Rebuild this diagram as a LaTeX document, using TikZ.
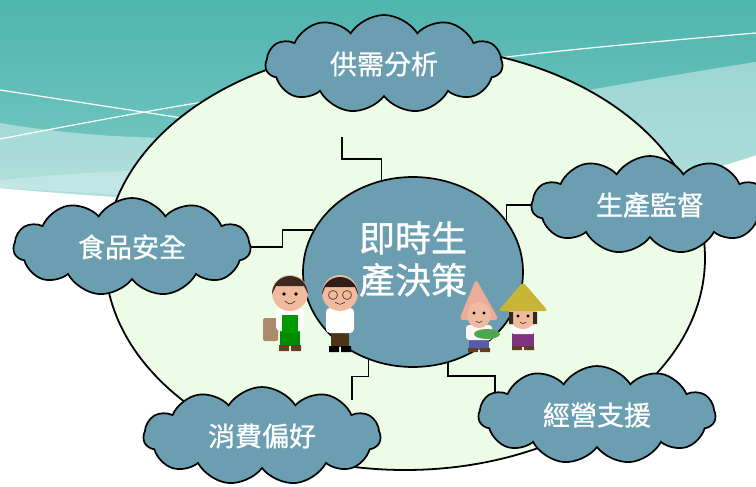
\documentclass[tikz,border=0pt]{standalone}
\usepackage{fontspec}
\usetikzlibrary{shapes.symbols,shapes.geometric}
\newfontfamily\cjk{Noto Sans CJK TC}[FakeBold=0.9]
\definecolor{tealtop}{RGB}{80,180,175}
\definecolor{tealbot}{RGB}{125,204,198}
\definecolor{steel}{RGB}{106,158,176}
\definecolor{mint}{RGB}{236,252,231}
\definecolor{skin}{RGB}{240,186,158}
\definecolor{hair}{RGB}{58,40,32}
\pgfdeclarelayer{back}
\pgfdeclarelayer{wires}
\pgfsetlayers{back,wires,main}
\tikzset{
  topic/.style={cloud, cloud puffs=11, cloud puff arc=115, cloud ignores aspect,
    draw=black, line width=1.7pt, fill=steel, minimum width=237pt, minimum height=98pt,
    text=white, font=\cjk\fontsize{27}{27}\selectfont},
  core/.style={ellipse, draw=black, line width=1.7pt, fill=steel,
    minimum width=220pt, minimum height=190pt},
  coretext/.style={text=white, align=center, font=\cjk\fontsize{36}{42}\selectfont},
  link/.style={line width=1.5pt},
}

\begin{document}
\begin{tikzpicture}[x=1pt,y=-1pt]
\useasboundingbox (0,0) rectangle (756,487);

\begin{pgfonlayer}{back}
% Backdrop
\fill[white] (0,0) rectangle (756,487);
\shade[top color=tealtop, bottom color=tealbot] (0,0) -- (756,0) -- (756,155)
  .. controls (600,210) and (300,215) .. (0,188) -- cycle;
\fill[white, opacity=.4] (0,123) .. controls (250,165) and (450,110) .. (756,62) -- (756,155)
  .. controls (600,210) and (300,215) .. (0,188) -- cycle;
\fill[white, opacity=.25] (0,180) .. controls (80,172) and (160,168) .. (250,170) -- (250,202) -- (0,188) -- cycle;
\draw[white, line width=1.2pt] (0,90) -- (260,130);
\draw[white, line width=1.2pt] plot[smooth] coordinates {(0,139) (197,103) (507,57) (756,33)};
% Big ellipse
\draw[line width=1.8pt, fill=mint] (405,258) ellipse [x radius=300, y radius=212];
\end{pgfonlayer}

% Centre and topics
\node[core, label={[coretext, yshift=13pt]center:即時生\\產決策}] (core) at (413,272) {};
\node[topic] (supply) at (384,64) {供需分析};
\node[topic] (monitor) at (650,205) {生產監督};
\node[topic] (food) at (132,247) {食品安全};
\node[topic] (pref) at (262,436) {消費偏好};
\node[topic] (support) at (597,415) {經營支援};
\coordinate (t1) at (342,137);
\coordinate (b1) at (352,400);
\coordinate (b2) at (495,395);

\begin{pgfonlayer}{wires}
\draw[link] (core.109) -- ++(0,-21) -| (t1);
\draw[link] (core.157) -- ++(-31,0) |- (food);
\draw[link] (core.29) |- (monitor);
\draw[link] (core.243) -- ++(0,17) -| (b1);
\draw[link] (core.291) -- ++(0,13) -| (b2);
\end{pgfonlayer}

% Man with bag
\begin{scope}[shift={(290,293)}]
\fill[brown!70!black!70, rounded corners=2] (-27,25) rectangle (-12,48);
\fill[green!55!black] (-10,36) rectangle (10,53);
\fill[brown!50!black] (-11,52) rectangle (-1,58) (1,52) rectangle (11,58);
\fill[white, rounded corners=4] (-14,15) rectangle (14,38);
\fill[green!60!black] (-8,22) rectangle (8,40);
\fill[skin] (0,0) circle (18);
\fill[hair] (-18,1) arc (180:360:18) -- (14,-7) -- (-14,-7) -- cycle;
\fill (-6,1) circle (1.8) (6,1) circle (1.8);
\draw (-5,8) .. controls (0,12) .. (5,8);
\end{scope}
% Man with glasses
\begin{scope}[shift={(340,293)}]
\fill[brown!40!black] (-9,36) rectangle (9,54);
\fill[black] (-11,53) rectangle (-1,59) (1,53) rectangle (11,59);
\fill[white, rounded corners=4] (-14,15) rectangle (14,40);
\fill[skin] (0,0) circle (18);
\fill[hair!80!black] (-18,2) arc (180:360:18) -- (15,-6) -- (-15,-6) -- cycle;
\draw[brown!60!black, line width=.8pt] (-7,2) circle (4.5) (7,2) circle (4.5);
\draw (-5,9) .. controls (0,12) .. (5,9);
\end{scope}
% Farmer in pink hood
\begin{scope}[shift={(479,312)}]
\fill[blue!30!gray] (-10,24) rectangle (10,38);
\fill[brown!50!black] (-11,36) rectangle (-1,40) (1,36) rectangle (11,40);
\fill[white!85!pink, rounded corners=3] (-13,13) rectangle (13,28);
\fill[pink!70!brown, rounded corners=4] (-20,8) -- (-3,-33) -- (20,8) -- cycle;
\fill[skin] (0,3) ellipse (12 and 13);
\fill (-5,1) circle (1.6) (5,1) circle (1.6);
\draw (-3,9) .. controls (0,11) .. (3,9);
\fill[green!50!black!70] (8,22) ellipse (13 and 5);
\end{scope}
% Farmer in straw hat
\begin{scope}[shift={(523,312)}]
\fill[violet!60!gray] (-11,17) rectangle (11,35);
\fill[brown!50!black] (-11,34) rectangle (-1,38) (1,34) rectangle (11,38);
\fill[white, rounded corners=3] (-12,13) rectangle (12,22);
\fill[skin] (0,3) circle (14);
\fill[hair] (-14,0) rectangle (-10,12) (10,0) rectangle (14,12);
\fill[brown!40!yellow!70!gray, rounded corners=3] (-25,-1) -- (0,-30) -- (25,-1) -- cycle;
\fill (-5,4) circle (1.6) (5,4) circle (1.6);
\draw (-3,10) .. controls (0,12) .. (3,10);
\end{scope}
\end{tikzpicture}
\end{document}
